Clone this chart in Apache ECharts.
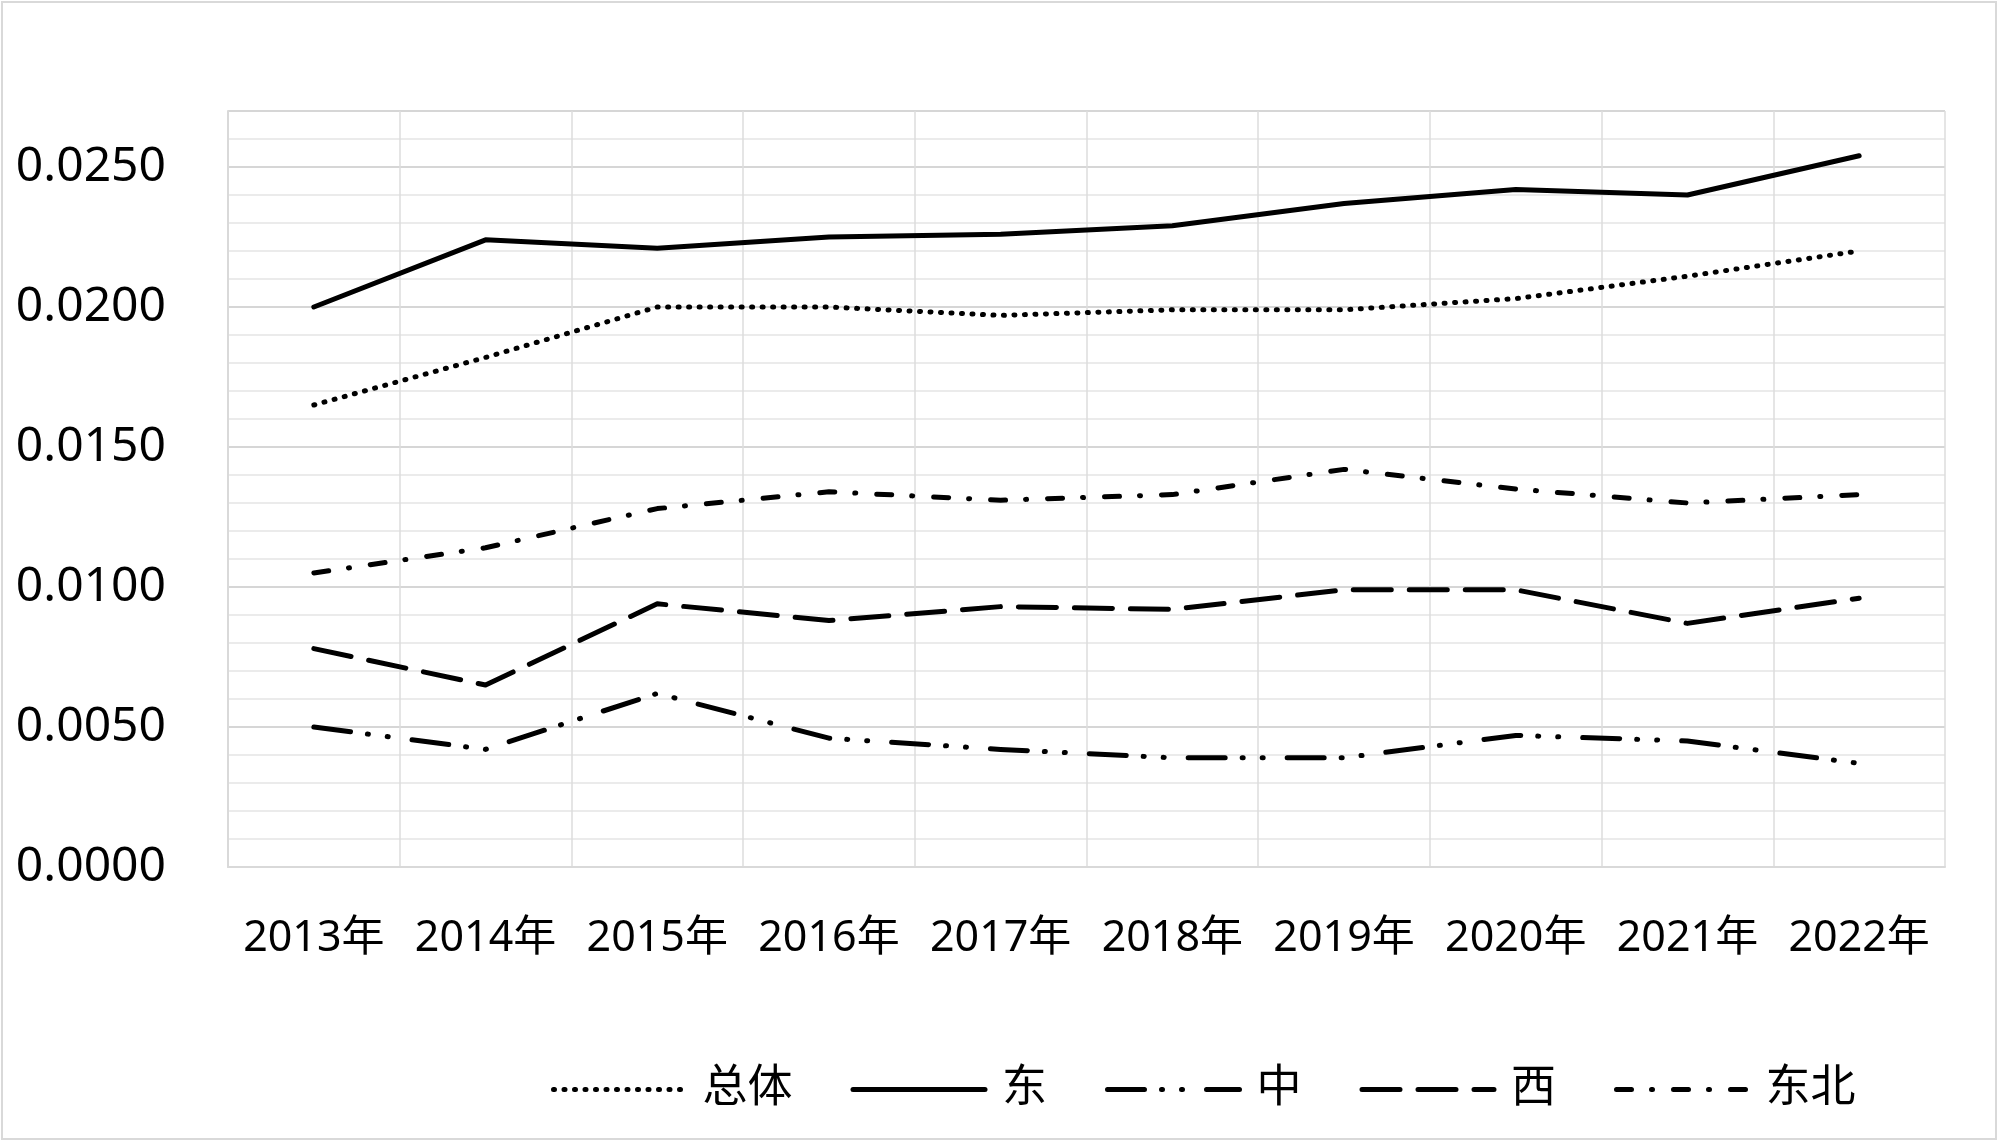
<!DOCTYPE html>
<html>
<head>
<meta charset="utf-8">
<script src="https://cdn.jsdelivr.net/npm/echarts@6/dist/echarts.min.js"></script>
<style>
  html, body { margin: 0; padding: 0; background: #fff; }
  #chart { width: 1999px; height: 1142px; }
</style>
</head>
<body>
<div id="chart"></div>
<script>
const categories = ['2013年','2014年','2015年','2016年','2017年','2018年','2019年','2020年','2021年','2022年'];
const seriesNames = ['总体','东','中','西','东北'];
const totalValues     = [0.0165, 0.0182, 0.0200, 0.0200, 0.0197, 0.0199, 0.0199, 0.0203, 0.0211, 0.0220];
const eastValues      = [0.0200, 0.0224, 0.0221, 0.0225, 0.0226, 0.0229, 0.0237, 0.0242, 0.0240, 0.0254];
const centralValues   = [0.0050, 0.0042, 0.0062, 0.0046, 0.0042, 0.0039, 0.0039, 0.0047, 0.0045, 0.0037];
const westValues      = [0.0078, 0.0065, 0.0094, 0.0088, 0.0093, 0.0092, 0.0099, 0.0099, 0.0087, 0.0096];
const northeastValues = [0.0105, 0.0114, 0.0128, 0.0134, 0.0131, 0.0133, 0.0142, 0.0135, 0.0130, 0.0133];
const yMin = 0, yMax = 0.027, yMajor = 0.005, yMinor = 0.001;

const FONT = '"Noto Sans", "Noto Sans CJK SC", sans-serif';
const chart = echarts.init(document.getElementById('chart'), null, { renderer: 'canvas' });

function lineSeries(name, data, type, width) {
  return {
    name: name, type: 'line', data: data, yAxisIndex: 1,
    symbol: 'none', smooth: false,
    lineStyle: { color: '#000', width: width, type: type, cap: 'round', join: 'round' },
    itemStyle: { color: '#000', opacity: 0 },
    emphasis: { disabled: true }
  };
}

chart.setOption({
  animation: false,
  backgroundColor: '#fff',
  graphic: [{
    type: 'rect', silent: true, z: -10,
    shape: { x: 2, y: 2, width: 1994, height: 1137 },
    style: { fill: 'none', stroke: '#d9d9d9', lineWidth: 2 }
  }],
  grid: { left: 228, right: 54, top: 111, bottom: 275, containLabel: false },
  legend: {
    data: seriesNames,
    left: 546, top: 1062,
    itemWidth: 132, itemHeight: 24, itemGap: 58,
    itemStyle: { opacity: 0 },
    lineStyle: { width: 5 },
    textStyle: { fontFamily: FONT, fontSize: 45, color: '#000', padding: [0, 0, 0, 12] }
  },
  xAxis: {
    type: 'category', data: categories, boundaryGap: true,
    axisLine: { show: true, lineStyle: { color: '#d9d9d9', width: 2 } },
    axisTick: { show: false },
    axisLabel: { fontFamily: FONT, fontSize: 43, color: '#000', margin: 50, interval: 0 },
    splitLine: { show: true, interval: 0, lineStyle: { color: '#dcdcdc', width: 1.5 } }
  },
  yAxis: [{
    type: 'value', min: yMin, max: yMax, interval: yMinor, position: 'left',
    axisLine: { show: false }, axisTick: { show: false }, axisLabel: { show: false },
    splitLine: { show: true, lineStyle: { color: '#ebebeb', width: 2 } }
  }, {
    type: 'value', min: yMin, max: yMax, interval: yMajor, position: 'left',
    axisLine: { show: true, lineStyle: { color: '#d9d9d9', width: 2 } },
    axisTick: { show: false },
    axisLabel: { fontFamily: FONT, fontSize: 48, color: '#000', margin: 62, showMaxLabel: false,
      formatter: v => v.toFixed(4) },
    splitLine: { show: true, lineStyle: { color: '#d6d6d6', width: 2 } }
  }],
  series: [
    lineSeries('总体', totalValues, [1, 9.5], 5),
    lineSeries('东', eastValues, 'solid', 5),
    lineSeries('中', centralValues, [37, 17, 1, 19, 1, 24], 5),
    lineSeries('西', westValues, [38, 18], 5),
    lineSeries('东北', northeastValues, [15, 20, 1, 21], 5)
  ]
});
</script>
</body>
</html>
